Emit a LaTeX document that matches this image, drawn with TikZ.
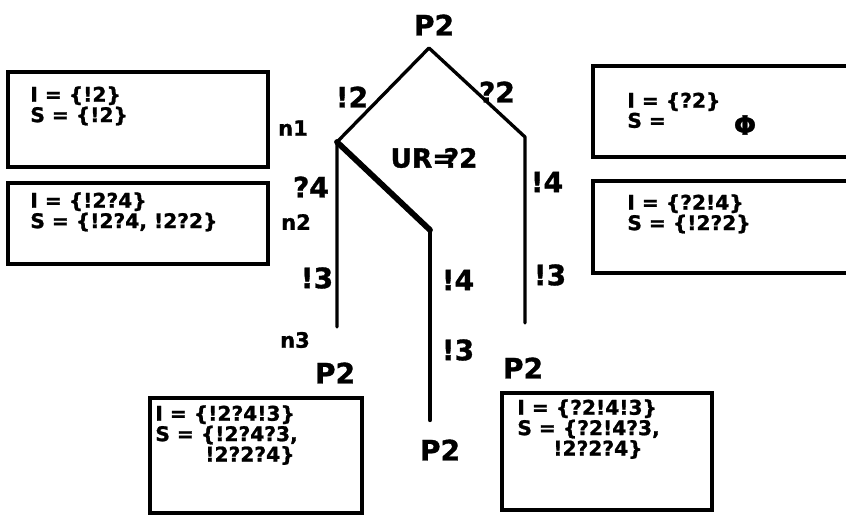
\documentclass[tikz,border=0pt]{standalone}
\usepackage{fontspec}
\setmainfont{DejaVu Sans}[BoldFeatures={FakeBold=1.2}]
\usetikzlibrary{positioning}

\begin{document}
\begin{tikzpicture}[x=0.02cm,y=-0.02cm,font=\bfseries,
  tree/.style={line width=1.9pt,line cap=round,line join=round},
  urpath/.style={line width=3.3pt,line cap=round},
  box/.style={line width=1.8pt},
  info/.style={anchor=north west,align=left,inner sep=0pt,font=\bfseries\fontsize{11.5}{10.4}\selectfont},
  lbl/.style={inner sep=0pt,font=\bfseries\fontsize{16}{16}\selectfont},
  nlbl/.style={inner sep=0pt,font=\bfseries\fontsize{12}{12}\selectfont}]
  \useasboundingbox (0,0) rectangle (846,517);
  \clip (0,0) rectangle (846,517);
  \coordinate (top) at (429,48);
  \coordinate (n1) at (337,142);
  \coordinate (rc) at (525,137);
  \coordinate (mk) at (430,230);
  \coordinate (lend) at (337,327);
  \coordinate (mend) at (430,420);
  \coordinate (rend) at (525,323);
  \draw[tree] (lend) -- (n1) -- (top) -- (rc) -- (rend);
  \draw[urpath] (n1) -- (mk);
  \draw[urpath,line width=2.5pt] (mk) -- (mend);
  \node[lbl] (ptop) at (434,25) {P2};
  \node[lbl] (l12) at (352,97) {!2};
  \node[lbl] (l22) at (497,92) {?2};
  \node[lbl,font=\bfseries\fontsize{15}{15}\selectfont] (lur) at (434,158) {UR=\kern-.4em?2};
  \node[lbl] (l24) at (311,187) {?4};
  \node[lbl] (l14r) at (547,182) {!4};
  \node[lbl] (l13l) at (317,278) {!3};
  \node[lbl] (l14m) at (458,280) {!4};
  \node[lbl] (l13r) at (550,275) {!3};
  \node[lbl] (l13m) at (458,350) {!3};
  \node[lbl] (p2l) at (335,373) {P2};
  \node[lbl] (p2r) at (523,368) {P2};
  \node[lbl] (p2m) at (440,450) {P2};
  \node[nlbl] (lbn1) at (293,128) {n1};
  \node[nlbl] (lbn2) at (296,222) {n2};
  \node[nlbl] (lbn3) at (295,340) {n3};
  \draw[box] (8,72) rectangle (268,167);
  \node[info] (s1) at (30,86) {I = \{!2\}\\S = \{!2\}};
  \draw[box] (8,183) rectangle (268,264);
  \node[info] (s2) at (30,192) {I = \{!2?4\}\\S = \{!2?4, !2?2\}};
  \draw[box] (593,66) rectangle (860,157);
  \node[info] (s3) at (627,92) {I = \{?2\}\\S =};
  \node[lbl,font=\bfseries\fontsize{15}{15}\selectfont] (phi) at (745,125) {Φ};
  \draw[box] (593,181) rectangle (860,273);
  \node[info] (s4) at (627,194) {I = \{?2!4\}\\S = \{!2?2\}};
  \draw[box] (150,398) rectangle (362,513);
  \node[info] (s5) at (155,405) {I = \{!2?4!3\}\\S = \{!2?4?3,\\\hspace*{1cm}!2?2?4\}};
  \draw[box] (502,393) rectangle (712,510);
  \node[info] (s6) at (517,399) {I = \{?2!4!3\}\\S = \{?2!4?3,\\\hspace*{0.72cm}!2?2?4\}};
\end{tikzpicture}
\end{document}
